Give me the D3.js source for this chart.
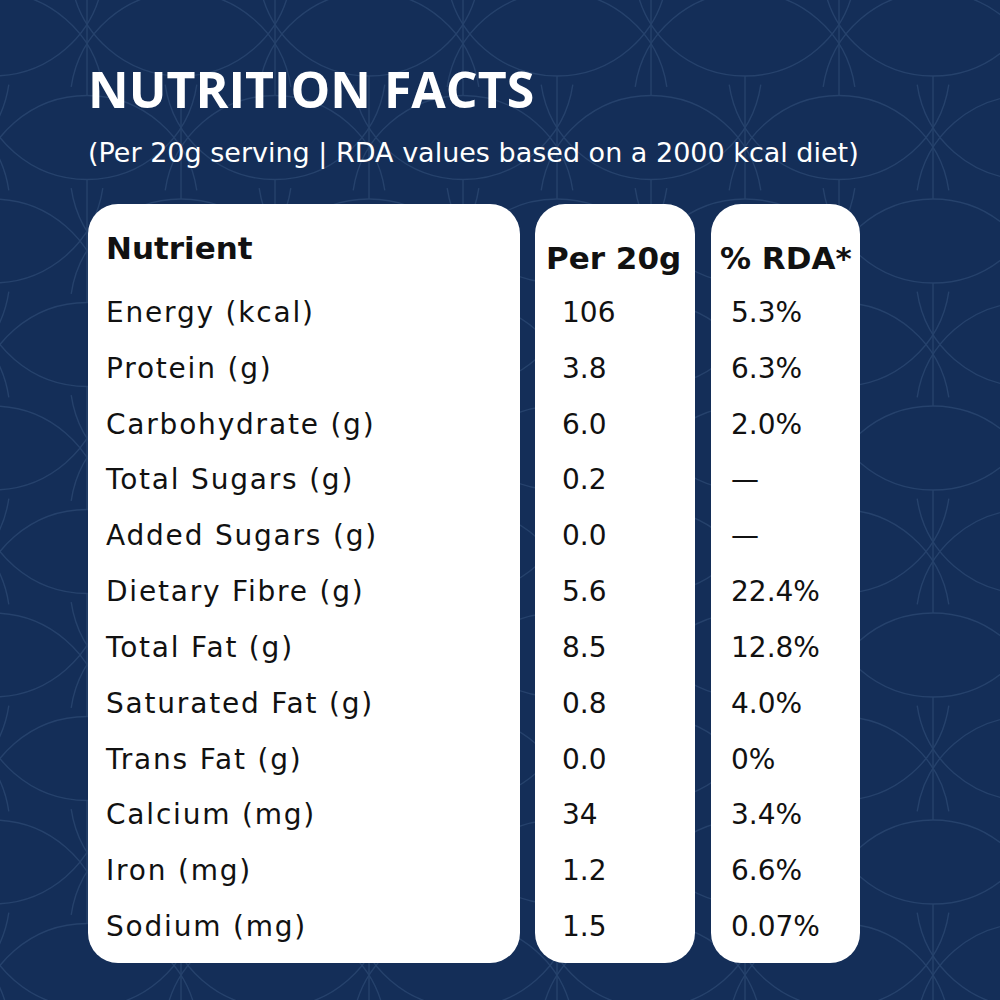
<!DOCTYPE html>
<html><head><meta charset="utf-8">
<script src="https://cdn.jsdelivr.net/npm/d3@7"></script>
<style>
html,body{margin:0;padding:0;background:#142e58;}
svg{display:block;}
text{font-family:"Open Sans","Noto Sans",sans-serif;}
text.body, .body text{font-family:"DejaVu Sans",sans-serif;}
</style></head>
<body>
<script>
// ---- data ----
const title = "NUTRITION FACTS";
const subtitle = "(Per 20g serving | RDA values based on a 2000 kcal diet)";
const headers = ["Nutrient", "Per 20g", "% RDA*"];
const nutrients = ["Energy (kcal)", "Protein (g)", "Carbohydrate (g)", "Total Sugars (g)", "Added Sugars (g)", "Dietary Fibre (g)", "Total Fat (g)", "Saturated Fat (g)", "Trans Fat (g)", "Calcium (mg)", "Iron (mg)", "Sodium (mg)"];
const per20g = ["106", "3.8", "6.0", "0.2", "0.0", "5.6", "8.5", "0.8", "0.0", "34", "1.2", "1.5"];
const rda = ["5.3%", "6.3%", "2.0%", "—", "—", "22.4%", "12.8%", "4.0%", "0%", "3.4%", "6.6%", "0.07%"];

const W = 1000, H = 1000;
const svg = d3.select("body").append("svg").attr("width", W).attr("height", H);
svg.append("rect").attr("width", W).attr("height", H).attr("fill", "#142e58");

// ---- decorative background pattern (lens lattice) ----
const pat = svg.append("g").attr("fill", "none").attr("stroke", "#26426c").attr("stroke-width", 1.4);
const R = 111, d = 69, a = 87, b = 42, colStep = 94, rowStep = 103.5;
const phiMax = Math.asin(a / R) + 30 * Math.PI / 180;
function lens(cx, cy) {
  const sx = R * Math.sin(phiMax), cyU = cy + d, cyL = cy - d;
  const yU = cyU - R * Math.cos(phiMax), yL = cyL + R * Math.cos(phiMax);
  return `M${cx - sx},${yU}A${R},${R} 0 0 1 ${cx + sx},${yU}` +
         `M${cx - sx},${yL}A${R},${R} 0 0 0 ${cx + sx},${yL}`;
}
const pts = [];
for (let i = -12; i <= 2; i++) {
  for (let j = -6; j <= 7; j++) {
    if ((i + j) % 2 !== 0) continue;
    pts.push([933 + colStep * i, 448 + rowStep * j]);
  }
}
pat.selectAll("path.lens").data(pts).join("path").attr("class", "lens").attr("d", p => lens(p[0], p[1]));
pat.selectAll("line.v").data(pts).join("line").attr("class", "v")
  .attr("x1", p => p[0]).attr("x2", p => p[0])
  .attr("y1", p => p[1] + b).attr("y2", p => p[1] + 2 * rowStep - b);

// ---- titles ----
svg.append("text").attr("x", 88).attr("y", 108).attr("fill", "#fff")
  .attr("font-size", 50).attr("font-weight", 700).text(title);
svg.append("text").attr("class", "body").attr("x", 88).attr("y", 162).attr("fill", "#fff")
  .attr("font-size", 27).attr("font-weight", 400).text(subtitle);

// ---- cards ----
const cards = [{x0: 88, x1: 520}, {x0: 535, x1: 695}, {x0: 711, x1: 860}];
svg.selectAll("rect.card").data(cards).join("rect").attr("class", "card")
  .attr("x", c => c.x0).attr("y", 204).attr("width", c => c.x1 - c.x0).attr("height", 759)
  .attr("rx", 30).attr("fill", "#fff");

// ---- scales ----
const y = d3.scalePoint().domain(nutrients).range([312, 926]);
const colX = [106, 562, 731];

// headers
const hx = [106, 546, 720], hy = [259, 269, 269];
svg.selectAll("text.h").data(headers).join("text").attr("class", "h body")
  .attr("x", (h, i) => hx[i]).attr("y", (h, i) => hy[i])
  .attr("font-size", 31).attr("font-weight", 700).attr("fill", "#111").text(h => h);

const rows = svg.append("g").attr("class", "body").attr("fill", "#111").attr("font-size", 28);
rows.selectAll("text.n").data(nutrients).join("text").attr("class", "n")
  .attr("x", colX[0]).attr("y", n => y(n) + 10).attr("letter-spacing", 1.8).text(n => n);
rows.selectAll("text.p").data(per20g).join("text").attr("class", "p")
  .attr("x", colX[1]).attr("y", (v, i) => y(nutrients[i]) + 10).text(v => v);
rows.selectAll("text.r").data(rda).join("text").attr("class", "r")
  .attr("x", colX[2]).attr("y", (v, i) => y(nutrients[i]) + 10).text(v => v);
</script>
</body></html>
